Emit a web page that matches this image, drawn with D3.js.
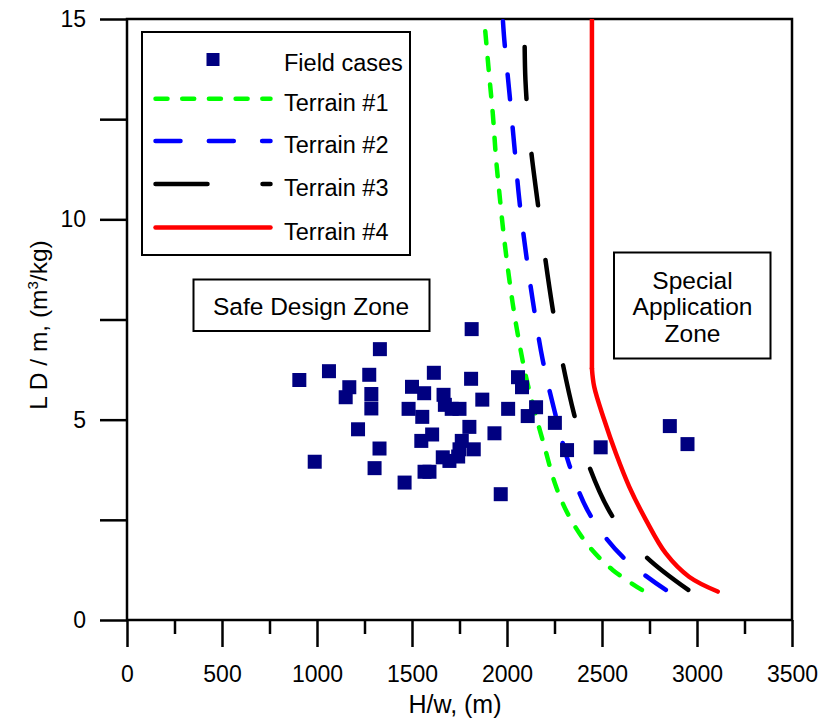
<!DOCTYPE html>
<html>
<head>
  <meta charset="utf-8">
  <title>Field cases and terrain curves</title>
  <style>
    body { margin: 0; background: #fff; }
    text { font-family: "Liberation Sans", Arial, sans-serif; fill: #000; }
    .axis path { display: none; }
    .axis line { stroke: #000; stroke-width: 2.5; }
    .axis text { font-size: 23px; }
  </style>
  <script src="https://d3js.org/d3.v7.min.js"></script>
</head>
<body>
  <div id="chart"></div>
  <script>
    // field cases: [H/w (m), LD/m]
    var fieldCases = [
      [907, 5.99], [988, 3.95], [1063, 6.21], [1151, 5.56], [1170, 5.81], [1216, 4.76],
      [1275, 6.12], [1286, 5.64], [1286, 5.28], [1303, 3.79], [1329, 4.28], [1331, 6.76],
      [1461, 3.43], [1482, 5.27], [1500, 5.82], [1549, 4.47], [1554, 5.07], [1564, 5.66],
      [1566, 3.70], [1592, 3.70], [1606, 4.63], [1615, 6.17], [1662, 4.06], [1666, 5.62],
      [1673, 5.37], [1697, 3.97], [1709, 5.27], [1743, 4.08], [1750, 5.27], [1750, 4.26],
      [1762, 4.47], [1802, 4.82], [1811, 6.02], [1814, 7.26], [1825, 4.26], [1870, 5.50],
      [1934, 4.66], [1967, 3.14], [2006, 5.27], [2058, 6.06], [2079, 5.81], [2109, 5.09],
      [2153, 5.31], [2252, 4.92], [2316, 4.24], [2493, 4.31], [2857, 4.84], [2950, 4.39]
    ];

    // terrain curves, listed from the bottom up
    var terrain1 = [
      [2710, 0.75], [2556, 1.25], [2433, 1.83], [2328, 2.58], [2258, 3.33], [2197, 4.33],
      [2144, 5.24], [2100, 6.07], [2065, 6.91], [2030, 7.90], [1986, 9.48], [1960, 10.65],
      [1943, 11.48], [1925, 12.65], [1907, 13.56], [1880, 15.0]
    ];
    var terrain2 = [
      [2836, 0.75], [2608, 1.58], [2433, 2.66], [2328, 3.87], [2249, 5.24], [2188, 6.49],
      [2135, 7.99], [2100, 9.15], [2065, 10.48], [2039, 11.81], [2013, 13.14], [1986, 14.47],
      [1978, 15.0]
    ];
    var terrain3 = [
      [2954, 0.75], [2731, 1.58], [2556, 2.58], [2433, 3.83], [2354, 5.12], [2293, 6.41],
      [2240, 7.78], [2161, 10.44], [2121, 11.98], [2097, 13.48], [2092, 15.0]
    ];
    // curved part, then a vertical line from the last point up to 15
    var terrain4 = [
      [3109, 0.71], [2958, 1.08], [2836, 1.66], [2731, 2.50], [2643, 3.33], [2573, 4.16],
      [2512, 4.99], [2459, 5.82], [2447, 6.28]
    ];
    var terrain4Top = [[2447, 6.28], [2447, 15.0]];

    var xMajor = [0, 500, 1000, 1500, 2000, 2500, 3000, 3500];
    var xMinor = [250, 750, 1250, 1750, 2250, 2750, 3250];
    var yTicks = [0, 2.5, 5, 7.5, 10, 12.5, 15];
    var yLabels = [0, 5, 10, 15];

    var series = [
      { name: "Terrain #1", data: [terrain1], color: "#00ff00", dash: "12,14.7" },
      { name: "Terrain #2", data: [terrain2], color: "#0000ff", dash: "25,28.3" },
      { name: "Terrain #3", data: [terrain3], color: "#000000", dash: "52,55" },
      { name: "Terrain #4", data: [terrain4, terrain4Top], color: "#ff0000", dash: null }
    ];

    var W = 822, H = 721;
    var pLeft = 127, pRight = 792, pTop = 19, pBottom = 620;

    var svg = d3.select("#chart").append("svg")
        .attr("width", W)
        .attr("height", H);

    var x = d3.scaleLinear().domain([0, 3500]).range([pLeft, pRight]);
    var y = d3.scaleLinear().domain([0, 15]).range([pBottom, pTop]);

    svg.append("defs").append("clipPath").attr("id", "plot")
      .append("rect")
        .attr("x", pLeft).attr("y", pTop)
        .attr("width", pRight - pLeft).attr("height", pBottom - pTop);

    // axes
    svg.append("g")
        .attr("class", "axis")
        .attr("transform", "translate(0," + pBottom + ")")
        .call(d3.axisBottom(x).tickValues(xMajor).tickSize(27).tickPadding(19)
          .tickSizeOuter(0).tickFormat(d3.format("d")));

    svg.append("g")
        .attr("class", "axis")
        .attr("transform", "translate(0," + pBottom + ")")
        .call(d3.axisBottom(x).tickValues(xMinor).tickSize(14).tickFormat("").tickSizeOuter(0));

    svg.append("g")
        .attr("class", "axis")
        .attr("transform", "translate(" + pLeft + ",0)")
        .call(d3.axisLeft(y).tickValues(yTicks).tickSize(27).tickPadding(14).tickSizeOuter(0)
          .tickFormat(function(d) { return yLabels.indexOf(d) >= 0 ? d : ""; }));

    // frame
    svg.append("rect")
        .attr("x", pLeft).attr("y", pTop)
        .attr("width", pRight - pLeft).attr("height", pBottom - pTop)
        .attr("fill", "none")
        .attr("stroke", "#000")
        .attr("stroke-width", 2.5);

    // axis titles
    svg.append("text")
        .attr("x", 455).attr("y", 713)
        .attr("text-anchor", "middle")
        .style("font-size", "25px")
        .text("H/w, (m)");

    var yt = svg.append("text")
        .attr("transform", "translate(47,325) rotate(-90)")
        .attr("text-anchor", "middle")
        .style("font-size", "24.5px");
    yt.append("tspan").text("L D / m, (m");
    yt.append("tspan").attr("dy", -9).style("font-size", "15px").text("3");
    yt.append("tspan").attr("dy", 9).text("/kg)");

    // curves
    var line = d3.line()
      .x(function(d) { return x(d[0]); })
      .y(function(d) { return y(d[1]); })
      .curve(d3.curveCatmullRom.alpha(0.5));

    var plot = svg.append("g").attr("clip-path", "url(#plot)");

    series.forEach(function(s) {
      s.data.forEach(function(part) {
        plot.append("path")
          .datum(part)
          .attr("fill", "none")
          .attr("stroke", s.color)
          .attr("stroke-width", 4.5)
          .attr("stroke-linecap", "round")
          .attr("stroke-dasharray", s.dash)
          .attr("d", line);
      });
    });

    // field cases
    var sq = 14;
    plot.selectAll(".pt")
      .data(fieldCases)
      .enter().append("rect")
        .attr("class", "pt")
        .attr("x", function(d) { return x(d[0]) - sq / 2; })
        .attr("y", function(d) { return y(d[1]) - sq / 2; })
        .attr("width", sq)
        .attr("height", sq)
        .attr("fill", "#000080");

    // legend
    var lg = svg.append("g");
    lg.append("rect")
        .attr("x", 142).attr("y", 32)
        .attr("width", 268).attr("height", 223)
        .attr("fill", "#fff")
        .attr("stroke", "#000")
        .attr("stroke-width", 2);

    lg.append("rect")
        .attr("x", 213 - 6.5).attr("y", 59.5 - 6.5)
        .attr("width", 13).attr("height", 13)
        .attr("fill", "#000080");
    lg.append("text")
        .attr("x", 284).attr("y", 71)
        .style("font-size", "23.5px")
        .text("Field cases");

    var rowY = [98.7, 141, 184, 227.5];
    series.forEach(function(s, i) {
      lg.append("line")
        .attr("x1", 155.5).attr("x2", 270.5)
        .attr("y1", rowY[i]).attr("y2", rowY[i])
        .attr("stroke", s.color)
        .attr("stroke-width", 4.5)
        .attr("stroke-linecap", "round")
        .attr("stroke-dasharray", s.dash);
      lg.append("text")
        .attr("x", 284).attr("y", rowY[i] + 12)
        .style("font-size", "23.5px")
        .text(s.name);
    });

    // zone labels
    svg.append("rect")
        .attr("x", 193.5).attr("y", 279.5)
        .attr("width", 236).attr("height", 51.5)
        .attr("fill", "#fff")
        .attr("stroke", "#000")
        .attr("stroke-width", 2);
    svg.append("text")
        .attr("x", 311).attr("y", 315)
        .attr("text-anchor", "middle")
        .style("font-size", "24.5px")
        .text("Safe Design Zone");

    svg.append("rect")
        .attr("x", 614).attr("y", 252.5)
        .attr("width", 156.5).attr("height", 106)
        .attr("fill", "#fff")
        .attr("stroke", "#000")
        .attr("stroke-width", 2);
    var special = ["Special", "Application", "Zone"];
    special.forEach(function(t, i) {
      svg.append("text")
        .attr("x", 692.5).attr("y", 288.5 + i * 26.8)
        .attr("text-anchor", "middle")
        .style("font-size", "24.5px")
        .text(t);
    });
  </script>
</body>
</html>
